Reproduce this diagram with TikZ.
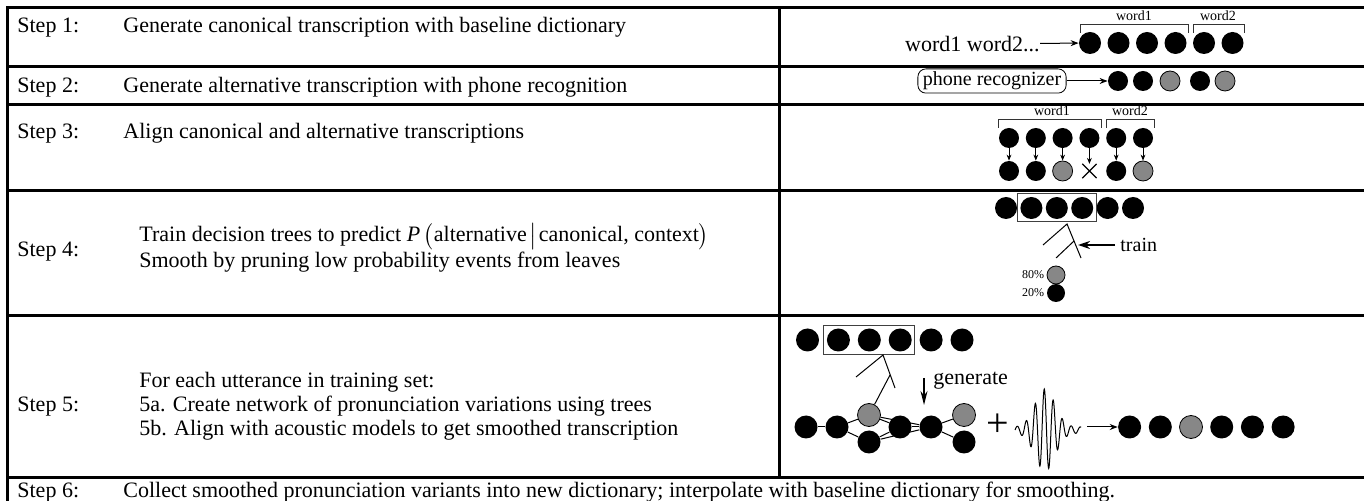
\documentclass[tikz,border=0pt]{standalone}
\usepackage{fontspec}
\setmainfont{Liberation Serif}
\usepackage{amsmath}
\usepackage{tikz}
\usetikzlibrary{arrows.meta}
\usetikzlibrary{fit}
\usetikzlibrary{shapes.misc}
\usetikzlibrary{positioning}

\tikzset{
    rule/.style={line width=1.5pt},
    lnk/.style={line width=0.5pt},
    ph/.style={circle, fill=black, inner sep=0pt, minimum size=11pt},
    phg/.style={ph, fill=black!47, draw=black, line width=0.4pt},
    steptxt/.style={anchor=base west, inner sep=0pt, font=\fontsize{11}{13}\selectfont},
    wordlbl/.style={anchor=base, inner sep=0pt, font=\fontsize{7}{8}\selectfont},
    arr/.style={-{Stealth[length=4pt,width=3pt]}, line width=0.5pt},
    sarr/.style={-{Stealth[length=3pt,width=2.4pt]}, line width=0.4pt},
}

\begin{document}
\begin{tikzpicture}[x=0.5pt, y=-0.5pt]
    \useasboundingbox (0,0) rectangle (1364,501);
    \draw[rule] (1364,8) -- (7,8) -- (7,501);
    \foreach \y in {67,105,191,316,478}
        \draw[rule] (7,\y) -- (1364,\y);
    \draw[rule] (779,8) -- (779,478);

    \node[steptxt] (s1) at (17,33) {Step 1:};
    \node[steptxt] (t1) at (123,33) {Generate canonical transcription with baseline dictionary};
    \node[steptxt] (s2) at (17,93) {Step 2:};
    \node[steptxt] (t2) at (123,93) {Generate alternative transcription with phone recognition};
    \node[steptxt] (s3) at (17,139) {Step 3:};
    \node[steptxt] (t3) at (123,139) {Align canonical and alternative transcriptions};
    \node[steptxt] (s4) at (17,257) {Step 4:};
    \node[steptxt] (t4a) at (139,242) {Train decision trees to predict \textit{P}\,$\bigl($alternative$\mkern2mu\big|\mkern2mu$canonical, context$\bigr)$};
    \node[steptxt] (t4b) at (139,268) {Smooth by pruning low probability events from leaves};
    \node[steptxt] (s5) at (17,412) {Step 5:};
    \node[steptxt] (t5a) at (139,388) {For each utterance in training set:};
    \node[steptxt] (t5b) at (139,412) {5a. Create network of pronunciation variations using trees};
    \node[steptxt] (t5c) at (139,436) {5b. Align with acoustic models to get smoothed transcription};
    \node[steptxt] (s6) at (17,497) {Step 6:};
    \node[steptxt] (t6) at (123,497) {Collect smoothed pronunciation variants into new dictionary; interpolate with baseline dictionary for smoothing.};

    \foreach \i in {1,...,6}
        \node[ph] (a\i) at ({1090+28.5*(\i-1)},43) {};
    \node[anchor=east, inner sep=0pt, font=\fontsize{11}{13}\selectfont] (w12) at (1040,44) {word1 word2...};
    \draw[arr] (w12) -- (a1);
    \draw[lnk, black!80] (1080,33) -- (1080,25) -- (1188,25) -- (1188,33);
    \draw[lnk, black!80] (1193,33) -- (1193,25) -- (1244,25) -- (1244,33);
    \node[wordlbl] (wa1) at (1134,21) {word1};
    \node[wordlbl] (wa2) at (1218,21) {word2};

    \node[draw, rounded corners=4pt, inner xsep=2.5pt, inner ysep=1.5pt, font=\fontsize{10}{12}\selectfont] (rec) at (992,81) {phone recognizer};
    \foreach \i/\x/\s in {1/1118/ph, 2/1143/ph, 3/1170/phg, 4/1200/ph, 5/1225/phg}
        \node[\s, minimum size=10pt] (r\i) at (\x,81) {};
    \draw[arr] (rec) -- (r1);

    \foreach \i in {1,...,6}
        \node[ph, minimum size=10pt] (u\i) at ({1009+26.8*(\i-1)},138) {};
    \foreach \i/\s in {1/ph, 2/ph, 3/phg, 5/ph, 6/phg}
        \node[\s, minimum size=10pt] (v\i) at ({1009+26.8*(\i-1)},171) {};
    \node[cross out, draw, minimum size=6.5pt, inner sep=0pt, line width=0.6pt] (v4) at ({1009+26.8*3},171) {};
    \foreach \i in {1,...,6}
        \draw[sarr] (u\i) -- (v\i);
    \draw[lnk, black!80] (998,128) -- (998,120) -- (1101,120) -- (1101,128);
    \draw[lnk, black!80] (1106,128) -- (1106,120) -- (1154,120) -- (1154,128);
    \node[wordlbl] (wb1) at (1052,116) {word1};
    \node[wordlbl] (wb2) at (1130,116) {word2};

    \foreach \i in {1,...,6}
        \node[ph] (b\i) at ({1006+25.4*(\i-1)},208) {};
    \node[draw=black!75, lnk, fit=(b2)(b4), inner sep=1.3pt] (bx4) {};
    \coordinate (p4) at (1067,224);
    \coordinate (q4) at (1043,245);
    \coordinate (m4) at (1074,241);
    \coordinate (r4) at (1081,258);
    \coordinate (l4) at (1056,258);
    \draw[lnk] (q4) -- (p4) -- (r4);
    \draw[lnk] (m4) -- (l4);
    \node[anchor=west, inner sep=0pt, font=\fontsize{10}{12}\selectfont] (tr) at (1120,245) {train};
    \coordinate (tip4) at (1078,245);
    \draw[-{Stealth[length=6pt,width=4pt]}, line width=0.7pt] ([xshift=-2.5pt]tr.west) -- (tip4);
    \node[phg, minimum size=9pt] (g4) at (1056,275) {};
    \node[ph, minimum size=9pt] (k4) at (1056,293) {};
    \node[left=1pt of g4, inner sep=0pt, font=\fontsize{6}{7}\selectfont] (pc80) {80\%};
    \node[left=1pt of k4, inner sep=0pt, font=\fontsize{6}{7}\selectfont] (pc20) {20\%};

    \foreach \i in {1,...,6}
        \node[ph, minimum size=11.5pt] (c\i) at ({807.5+30.9*(\i-1)},340) {};
    \node[draw=black!75, lnk, fit=(c2)(c4), inner sep=1.3pt] (bx5) {};
    \coordinate (p5) at (883,355);
    \coordinate (q5) at (856,377);
    \coordinate (m5) at (890,375);
    \coordinate (r5) at (895,388);
    \node[ph, minimum size=11.5pt] (n1) at (806,427) {};
    \node[ph, minimum size=11.5pt] (n2) at (837,427) {};
    \node[phg, minimum size=11.5pt] (n3) at (869,415) {};
    \node[ph, minimum size=11.5pt] (n4) at (869,442) {};
    \node[ph, minimum size=11.5pt] (n5) at (900,427) {};
    \node[ph, minimum size=11.5pt] (n6) at (931,427) {};
    \node[phg, minimum size=11.5pt] (n7) at (964,415) {};
    \node[ph, minimum size=11.5pt] (n8) at (964,442) {};
    \draw[lnk] (q5) -- (p5) -- (r5);
    \draw[lnk] (m5) -- (n3);
    \foreach \a/\b in {n1/n2, n2/n3, n2/n4, n3/n5, n3/n6, n4/n5, n4/n6, n5/n6, n6/n7, n6/n8}
        \draw[lnk] (\a) -- (\b);
    \coordinate (g0) at (924,378);
    \coordinate (g1) at (924,405);
    \draw[-{Stealth[length=7pt,width=3.5pt]}, line width=0.7pt] (g0) -- (g1);
    \node[anchor=west, inner sep=0pt, font=\fontsize{11}{13}\selectfont] (gen) at (933,381) {generate};
    \node[inner sep=0pt, font=\fontsize{20}{20}\selectfont] (plus) at (998,425) {+};
    \draw[lnk] plot[domain=0:66, samples=240, smooth] ({1015+\x}, {430 - (38*exp(-((\x-30)/14)^2)+3)*sin(\x*40)});
    \coordinate (wv) at (1087,427);
    \foreach \i/\s in {1/ph, 2/ph, 3/phg, 4/ph, 5/ph, 6/ph}
        \node[\s, minimum size=11.5pt] (o\i) at ({1129.6+30.7*(\i-1)},427) {};
    \draw[arr] (wv) -- (o1);
\end{tikzpicture}
\end{document}
